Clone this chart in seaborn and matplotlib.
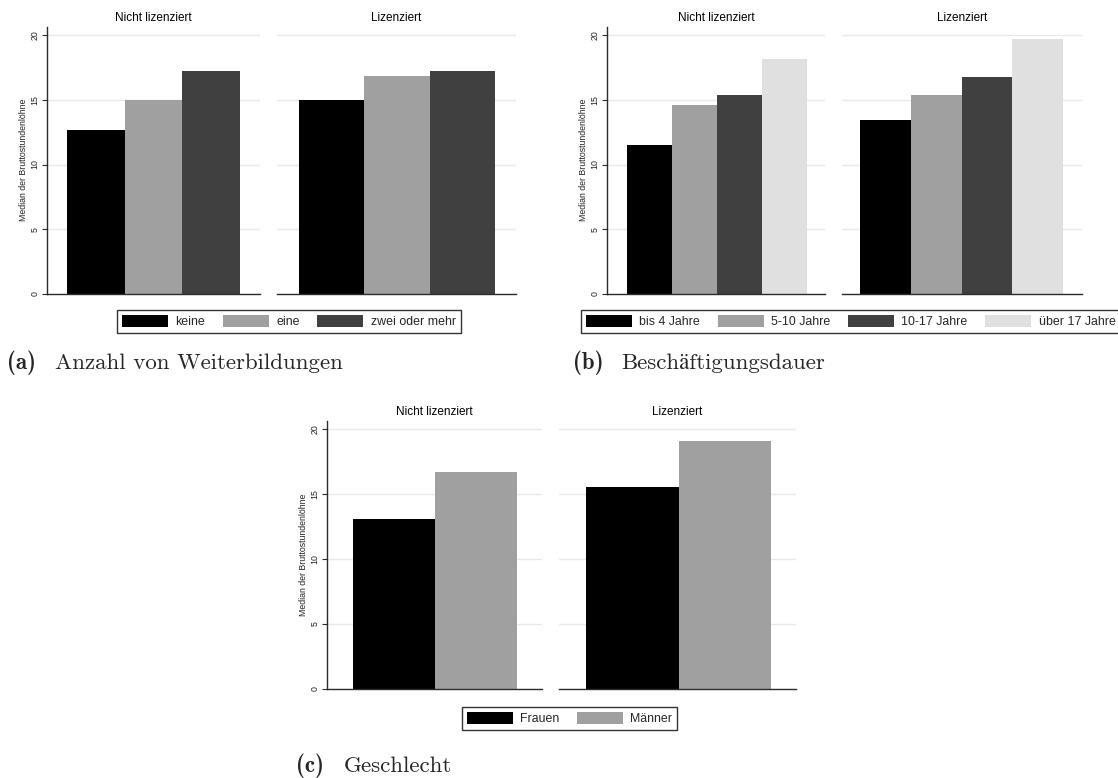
import matplotlib
matplotlib.use("Agg")
import matplotlib.pyplot as plt
from matplotlib.patches import Patch
import pandas as pd
import seaborn as sns

# ---- data -------------------------------------------------------------
panel_titles = ["Nicht lizenziert", "Lizenziert"]
y_label = "Median der Bruttostundenlöhne"
y_ticks = [0, 5, 10, 15, 20]

# (a) Anzahl von Weiterbildungen
weiterbildung_cats = ["keine", "eine", "zwei oder mehr"]
weiterbildung_nicht = [12.65, 14.98, 17.25]
weiterbildung_liz = [14.95, 16.8, 17.25]

# (b) Beschäftigungsdauer
dauer_cats = ["bis 4 Jahre", "5-10 Jahre", "10-17 Jahre", "über 17 Jahre"]
dauer_nicht = [11.5, 14.57, 15.35, 18.17]
dauer_liz = [13.44, 15.35, 16.76, 19.72]

# (c) Geschlecht
geschlecht_cats = ["Frauen", "Männer"]
geschlecht_nicht = [13.09, 16.72]
geschlecht_liz = [15.54, 19.11]

captions = [("(a)", "Anzahl von Weiterbildungen"),
            ("(b)", "Beschäftigungsdauer"),
            ("(c)", "Geschlecht")]

bar_colors = ["#000000", "#a0a0a0", "#404040", "#e0e0e0"]

# ---- style -----------------------------------------------------------
sns.set_theme(style="white")
plt.rcParams["font.family"] = ["Liberation Sans", "DejaVu Sans"]

W, H = 1118, 778
fig = plt.figure(figsize=(W / 100, H / 100), dpi=100)
fig.patch.set_facecolor("white")

Y_TOP = 20.65
SPINE = "#2b2b2b"
LEGEND_FS = 8.9
CAPTION_FS = 16.5


def px_axes(x0, x1, y_zero, y_twenty):
    """Axes spanning x0..x1 pixels, with value 0 at y_zero and 20 at y_twenty."""
    per_unit = (y_zero - y_twenty) / 20.0
    y_top = y_zero - Y_TOP * per_unit
    return fig.add_axes([x0 / W, 1 - y_zero / H, (x1 - x0) / W, (y_zero - y_top) / H])


def draw_panel(ax, cats, values, title, show_y, frame):
    ax0, ax1, bl, br = frame
    df = pd.DataFrame({"gruppe": [title] * len(cats), "kategorie": cats, "wert": values})
    sns.barplot(data=df, x="gruppe", y="wert", hue="kategorie", hue_order=cats,
                palette=bar_colors[:len(cats)], width=0.8, dodge=True,
                saturation=1, linewidth=0, errorbar=None, legend=False, ax=ax)
    s = 0.8 / (br - bl)
    ax.set_xlim(-0.4 - (bl - ax0) * s, 0.4 + (ax1 - br) * s)
    ax.set_ylim(0, Y_TOP)
    ax.set_yticks(y_ticks)
    ax.set_xticks([])
    ax.set_xlabel("")
    ax.yaxis.grid(True, color="#e9e9e9", lw=1.0)
    ax.set_axisbelow(True)
    for side in ("top", "right"):
        ax.spines[side].set_visible(False)
    ax.spines["bottom"].set_color(SPINE)
    ax.spines["bottom"].set_linewidth(1.0)
    ax.set_title(title, fontsize=8.5, pad=4, color="black")
    if show_y:
        ax.spines["left"].set_color(SPINE)
        ax.spines["left"].set_linewidth(1.0)
        ax.tick_params(axis="y", which="both", left=True, length=3.5, width=0.8,
                       color=SPINE, labelsize=6.3, pad=2, labelcolor="#222222")
        for lab in ax.get_yticklabels():
            lab.set_rotation(90)
            lab.set_va("center")
        ax.set_ylabel(y_label, fontsize=6.3, labelpad=2, color="#222222")
    else:
        ax.spines["left"].set_visible(False)
        ax.tick_params(axis="y", left=False, labelleft=False)
        ax.set_ylabel("")


def add_legend(cats, anchor, loc):
    handles = [Patch(facecolor=bar_colors[i], edgecolor="none", label=c)
               for i, c in enumerate(cats)]
    leg = fig.legend(handles=handles, loc=loc,
                     bbox_to_anchor=(anchor[0] / W, 1 - anchor[1] / H),
                     ncol=len(cats), fontsize=LEGEND_FS, frameon=True, fancybox=False,
                     edgecolor="black", handlelength=3.72, handleheight=1.1,
                     handletextpad=0.6, columnspacing=1.43, borderpad=0.4,
                     borderaxespad=0)
    leg.get_frame().set_linewidth(1.0)
    return leg


def add_caption(tag, text, x_tag, x_text, y_base):
    fig.text(x_tag / W, 1 - y_base / H, tag, family=["cmb10", "DejaVu Serif"],
             fontsize=CAPTION_FS, va="baseline", ha="left")
    fig.text(x_text / W, 1 - y_base / H, text, family=["cmr10", "STIXGeneral"],
             fontsize=CAPTION_FS, va="baseline", ha="left")


# ---- (a) --------------------------------------------------------------
axA1 = px_axes(47, 260, 294, 35)
draw_panel(axA1, weiterbildung_cats, weiterbildung_nicht, panel_titles[0], True,
           (47, 260, 67, 240))
axA2 = px_axes(277, 516, 294, 35)
draw_panel(axA2, weiterbildung_cats, weiterbildung_liz, panel_titles[1], False,
           (277, 516, 299, 495))
add_legend(weiterbildung_cats, (289, 321.5), "center")
add_caption(*captions[0], 7, 55, 369)

# ---- (b) --------------------------------------------------------------
axB1 = px_axes(607, 825, 294, 35)
draw_panel(axB1, dauer_cats, dauer_nicht, panel_titles[0], True,
           (607, 825, 627, 807))
axB2 = px_axes(842, 1082, 294, 35)
draw_panel(axB2, dauer_cats, dauer_liz, panel_titles[1], False,
           (842, 1082, 860, 1063))
add_legend(dauer_cats, (581, 321.5), "center left")
add_caption(*captions[1], 573, 621, 369)

# ---- (c) --------------------------------------------------------------
axC1 = px_axes(327, 542, 688.7, 429.3)
draw_panel(axC1, geschlecht_cats, geschlecht_nicht, panel_titles[0], True,
           (327, 542, 353, 517))
axC2 = px_axes(559, 796, 688.7, 429.3)
draw_panel(axC2, geschlecht_cats, geschlecht_liz, panel_titles[1], False,
           (559, 796, 586, 771))
add_legend(geschlecht_cats, (569.5, 718.5), "center")
add_caption(*captions[2], 296, 344, 772)

fig.savefig("out.png", dpi=100, facecolor="white")
